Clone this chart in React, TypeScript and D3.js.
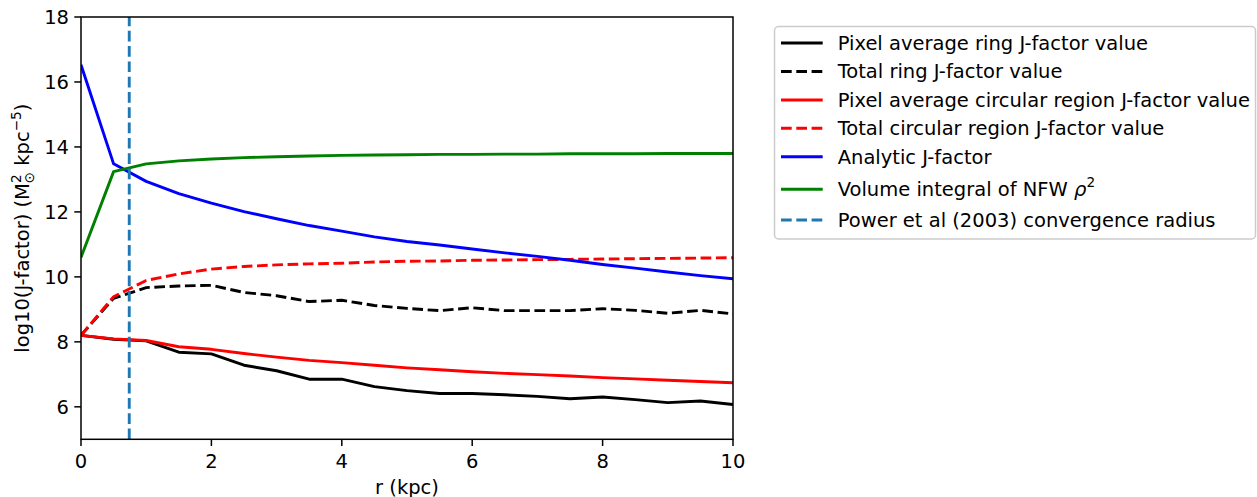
import React from "react";
import * as d3 from "d3";

const radii = [0, 0.5, 1, 1.5, 2, 2.5, 3, 3.5, 4, 4.5, 5, 5.5, 6, 6.5, 7, 7.5, 8, 8.5, 9, 9.5, 10];
const pixelAvgRing = [8.2, 8.08, 8.03, 7.68, 7.63, 7.28, 7.11, 6.85, 6.85, 6.62, 6.5, 6.41, 6.41, 6.37, 6.32, 6.25, 6.3, 6.22, 6.13, 6.18, 6.07];
const totalRing = [8.2, 9.34, 9.67, 9.72, 9.74, 9.52, 9.42, 9.24, 9.28, 9.12, 9.03, 8.96, 9.05, 8.96, 8.96, 8.96, 9.02, 8.97, 8.88, 8.97, 8.86];
const pixelAvgCirc = [8.2, 8.09, 8.04, 7.85, 7.77, 7.64, 7.53, 7.43, 7.36, 7.28, 7.2, 7.14, 7.08, 7.03, 6.99, 6.95, 6.9, 6.86, 6.82, 6.78, 6.74];
const totalCirc = [8.2, 9.39, 9.89, 10.09, 10.24, 10.32, 10.37, 10.4, 10.42, 10.46, 10.48, 10.49, 10.51, 10.52, 10.53, 10.54, 10.55, 10.56, 10.57, 10.58, 10.59];
const analytic = [16.53, 13.48, 12.94, 12.56, 12.27, 12.01, 11.79, 11.58, 11.41, 11.23, 11.09, 10.98, 10.86, 10.74, 10.63, 10.51, 10.38, 10.27, 10.15, 10.04, 9.94];
const volumeNFW = [10.6, 13.24, 13.48, 13.57, 13.63, 13.67, 13.7, 13.72, 13.74, 13.75, 13.76, 13.77, 13.77, 13.78, 13.78, 13.79, 13.79, 13.79, 13.8, 13.8, 13.8];
const convergenceRadius = 0.74;
const xTicks = [0, 2, 4, 6, 8, 10];
const yTicks = [6, 8, 10, 12, 14, 16, 18];

const legendLabels = [
  "Pixel average ring J-factor value",
  "Total ring J-factor value",
  "Pixel average circular region J-factor value",
  "Total circular region J-factor value",
  "Analytic J-factor",
  "Volume integral of NFW",
  "Power et al (2003) convergence radius",
];

const FONT = "DejaVu Sans, sans-serif";
const FS = 19.5;

export default function App() {
  const left = 81, right = 733, top = 17, bottom = 439.3;
  const x = d3.scaleLinear().domain([0, 10]).range([left, right]);
  const y = d3.scaleLinear().domain([5, 18]).range([bottom, top]);
  const line = d3.line<number>().x((_, i) => x(radii[i])).y((d) => y(d));
  const dash = "10.7,4.6";

  const series = [
    { v: pixelAvgRing, c: "#000000", d: undefined },
    { v: totalRing, c: "#000000", d: dash },
    { v: pixelAvgCirc, c: "#ff0000", d: undefined },
    { v: totalCirc, c: "#ff0000", d: dash },
    { v: analytic, c: "#0000ff", d: undefined },
    { v: volumeNFW, c: "#008000", d: undefined },
  ];
  const legendStyles = [
    ...series.map((s) => ({ c: s.c, d: s.d })),
    { c: "#1f77b4", d: dash },
  ];
  const rowY = [43, 71.5, 100, 128.3, 156.7, 189.3, 220];

  return (
    <svg width={1257} height={497} style={{ display: "block", position: "absolute", left: 0, top: 0 }} fontFamily={FONT}>
      <rect x={0} y={0} width={1257} height={497} fill="#fff" />
      <defs>
        <clipPath id="plotclip">
          <rect x={left} y={top} width={right - left} height={bottom - top} />
        </clipPath>
      </defs>
      <g clipPath="url(#plotclip)">
        {series.map((s, i) => (
          <path key={i} d={line(s.v) || ""} fill="none" stroke={s.c} strokeWidth={2.9} strokeDasharray={s.d} strokeLinejoin="round" />
        ))}
        <line x1={x(convergenceRadius)} x2={x(convergenceRadius)} y1={bottom} y2={top} stroke="#1f77b4" strokeWidth={2.9} strokeDasharray={dash} />
      </g>
      <rect x={left} y={top} width={right - left} height={bottom - top} fill="none" stroke="#000" strokeWidth={1.5} />
      {xTicks.map((t) => (
        <g key={t}>
          <line x1={x(t)} x2={x(t)} y1={bottom} y2={bottom + 6.7} stroke="#000" strokeWidth={1.5} />
          <text x={x(t)} y={bottom + 29} textAnchor="middle" fontSize={FS} fill="#000">{t}</text>
        </g>
      ))}
      {yTicks.map((t) => (
        <g key={t}>
          <line x1={left - 6.7} x2={left} y1={y(t)} y2={y(t)} stroke="#000" strokeWidth={1.5} />
          <text x={left - 12} y={y(t)} dy="0.35em" textAnchor="end" fontSize={FS} fill="#000">{t}</text>
        </g>
      ))}
      <text x={(left + right) / 2} y={494} textAnchor="middle" fontSize={FS} fill="#000">r (kpc)</text>
      <g transform={`translate(29, ${(top + bottom) / 2}) rotate(-90)`}>
        <text x={0} y={0} textAnchor="middle" fontSize={FS} fill="#000">
          log10(J-factor) (M
          <tspan fontSize={FS * 0.7} dy={-8}>2</tspan>
          <tspan fontSize={FS * 0.7} dx={-9} dy={13}>⊙</tspan>
          <tspan dy={-5}>{"  kpc"}</tspan>
          <tspan fontSize={FS * 0.7} dy={-8}>−5</tspan>
          <tspan dy={8}>)</tspan>
        </text>
      </g>
      <rect x={774.5} y={26.5} width={481} height={212.5} rx={4} ry={4} fill="#fff" fillOpacity={0.8} stroke="#cccccc" strokeWidth={1.5} />
      {legendLabels.map((lab, i) => (
        <g key={i}>
          <line x1={781} x2={822.7} y1={rowY[i]} y2={rowY[i]} stroke={legendStyles[i].c} strokeWidth={2.9} strokeDasharray={legendStyles[i].d} />
          <text x={837.7} y={rowY[i]} dy="0.35em" fontSize={FS} fill="#000">
            {lab}
            {i === 5 ? (
              <>
                <tspan fontStyle="italic">{" ρ"}</tspan>
                <tspan fontSize={FS * 0.7} dy={-9}>2</tspan>
              </>
            ) : null}
          </text>
        </g>
      ))}
    </svg>
  );
}
